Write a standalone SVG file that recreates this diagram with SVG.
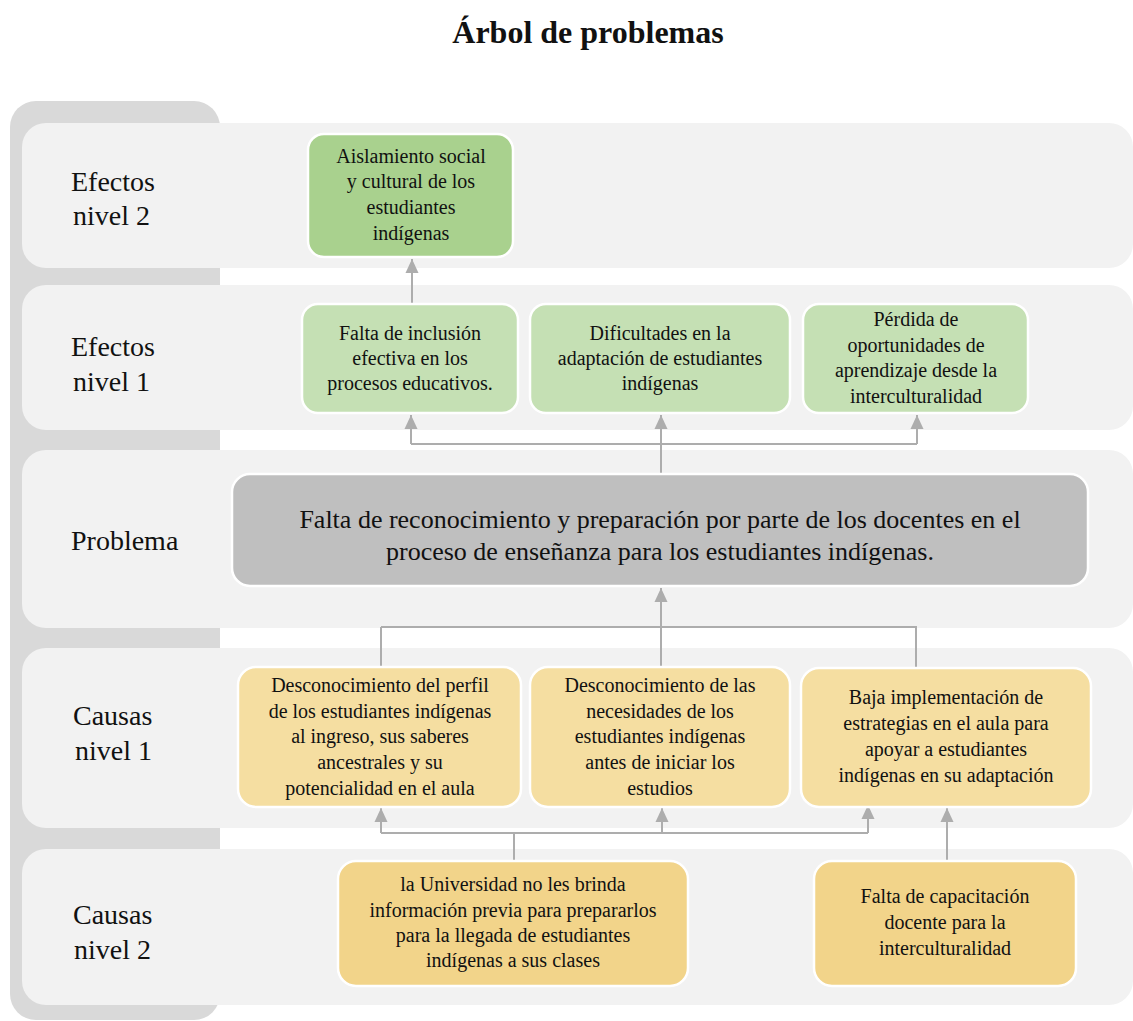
<svg xmlns="http://www.w3.org/2000/svg" width="1133" height="1021" viewBox="0 0 1133 1021">
<defs>
<style>
.t{font-family:"Liberation Serif","Times New Roman",serif;fill:#111;text-anchor:middle}
.bx{font-size:20px}
.lab{font-family:"Liberation Serif","Times New Roman",serif;font-size:28px;fill:#111}
.row{fill:#F2F2F2}
.node{stroke:#FFFFFF;stroke-width:2.5}
.c{fill:none;stroke:#ADADAD;stroke-width:2}
</style>
<marker id="ah" markerUnits="userSpaceOnUse" markerWidth="15" markerHeight="14" refX="14" refY="7" orient="auto" viewBox="0 0 15 14">
<path d="M0,0.5 L14,7 L0,13.5 z" fill="#ADADAD"/>
</marker>
</defs>
<rect width="1133" height="1021" fill="#FFFFFF"/>
<text class="t" x="588" y="43" style="font-size:32px;font-weight:bold">Árbol de problemas</text>

<g id="background">
<rect x="10" y="101" width="210" height="919" rx="26" fill="#D9D9D9"/>
<rect class="row" x="22" y="123" width="1111" height="145" rx="24"/>
<rect class="row" x="22" y="285" width="1111" height="145" rx="24"/>
<rect class="row" x="22" y="450" width="1111" height="178" rx="24"/>
<rect class="row" x="22" y="648" width="1111" height="180" rx="24"/>
<rect class="row" x="22" y="849" width="1111" height="156" rx="24"/>
</g>

<g id="labels">
<text class="lab" x="71" y="191">Efectos</text>
<text class="lab" x="73" y="225">nivel 2</text>
<text class="lab" x="71" y="356">Efectos</text>
<text class="lab" x="73" y="391">nivel 1</text>
<text class="lab" x="71" y="550">Problema</text>
<text class="lab" x="73" y="725">Causas</text>
<text class="lab" x="75" y="760">nivel 1</text>
<text class="lab" x="73" y="924">Causas</text>
<text class="lab" x="74" y="959">nivel 2</text>
</g>

<g id="connectors">
<path class="c" d="M412,304 V259" marker-end="url(#ah)"/>
<path class="c" d="M661,474 V415" marker-end="url(#ah)"/>
<path class="c" d="M411,444 H917"/>
<path class="c" d="M411,444 V415" marker-end="url(#ah)"/>
<path class="c" d="M917,444 V415" marker-end="url(#ah)"/>
<path class="c" d="M661,667 V588" marker-end="url(#ah)"/>
<path class="c" d="M381,627 H916 V667"/>
<path class="c" d="M381,627 V667"/>
<path class="c" d="M514,861 V833"/>
<path class="c" d="M381,833 H868"/>
<path class="c" d="M381,833 V808" marker-end="url(#ah)"/>
<path class="c" d="M662,833 V808" marker-end="url(#ah)"/>
<path class="c" d="M868,833 V805" marker-end="url(#ah)"/>
<path class="c" d="M947,861 V808" marker-end="url(#ah)"/>
</g>

<g id="e2">
<rect class="node" x="308" y="134" width="205" height="123" rx="16" fill="#A9D18E"/>
<text class="t bx" x="411" y="163">Aislamiento social</text>
<text class="t bx" x="411" y="188">y cultural de los</text>
<text class="t bx" x="411" y="214">estudiantes</text>
<text class="t bx" x="411" y="240">indígenas</text>
</g>

<g id="e1a">
<rect class="node" x="302" y="304" width="216" height="109" rx="16" fill="#C5E0B4"/>
<text class="t bx" x="410" y="340">Falta de inclusión</text>
<text class="t bx" x="410" y="365">efectiva en los</text>
<text class="t bx" x="410" y="390">procesos educativos.</text>
</g>

<g id="e1b">
<rect class="node" x="530" y="304" width="260" height="109" rx="16" fill="#C5E0B4"/>
<text class="t bx" x="660" y="340">Dificultades en la</text>
<text class="t bx" x="660" y="365">adaptación de estudiantes</text>
<text class="t bx" x="660" y="390">indígenas</text>
</g>

<g id="e1c">
<rect class="node" x="803" y="304" width="225" height="109" rx="16" fill="#C5E0B4"/>
<text class="t bx" x="916" y="326">Pérdida de</text>
<text class="t bx" x="916" y="352">oportunidades de</text>
<text class="t bx" x="916" y="377">aprendizaje desde la</text>
<text class="t bx" x="916" y="403">interculturalidad</text>
</g>

<g id="problema">
<rect class="node" x="232" y="474" width="856" height="112" rx="18" fill="#BFBFBF"/>
<text class="t" style="font-size:26px" x="660" y="528">Falta de reconocimiento y preparación por parte de los docentes en el</text>
<text class="t" style="font-size:26px" x="660" y="560">proceso de enseñanza para los estudiantes indígenas.</text>
</g>

<g id="c1a">
<rect class="node" x="238" y="667" width="283" height="140" rx="18" fill="#F5DEA1"/>
<text class="t bx" x="380" y="692">Desconocimiento del perfil</text>
<text class="t bx" x="380" y="718">de los estudiantes indígenas</text>
<text class="t bx" x="380" y="743">al ingreso, sus saberes</text>
<text class="t bx" x="380" y="769">ancestrales y su</text>
<text class="t bx" x="380" y="795">potencialidad en el aula</text>
</g>

<g id="c1b">
<rect class="node" x="530" y="667" width="260" height="140" rx="18" fill="#F5DEA1"/>
<text class="t bx" x="660" y="692">Desconocimiento de las</text>
<text class="t bx" x="660" y="718">necesidades de los</text>
<text class="t bx" x="660" y="743">estudiantes indígenas</text>
<text class="t bx" x="660" y="769">antes de iniciar los</text>
<text class="t bx" x="660" y="795">estudios</text>
</g>

<g id="c1c">
<rect class="node" x="801" y="668" width="290" height="139" rx="18" fill="#F5DEA1"/>
<text class="t bx" x="946" y="704">Baja implementación de</text>
<text class="t bx" x="946" y="730">estrategias en el aula para</text>
<text class="t bx" x="946" y="756">apoyar a estudiantes</text>
<text class="t bx" x="946" y="782">indígenas en su adaptación</text>
</g>

<g id="c2a">
<rect class="node" x="338" y="861" width="350" height="125" rx="18" fill="#F2D48A"/>
<text class="t bx" x="513" y="891">la Universidad no les brinda</text>
<text class="t bx" x="513" y="917">información previa para prepararlos</text>
<text class="t bx" x="513" y="942">para la llegada de estudiantes</text>
<text class="t bx" x="513" y="967">indígenas a sus clases</text>
</g>

<g id="c2b">
<rect class="node" x="814" y="861" width="262" height="125" rx="18" fill="#F2D48A"/>
<text class="t bx" x="945" y="903">Falta de capacitación</text>
<text class="t bx" x="945" y="929">docente para la</text>
<text class="t bx" x="945" y="955">interculturalidad</text>
</g>
</svg>
